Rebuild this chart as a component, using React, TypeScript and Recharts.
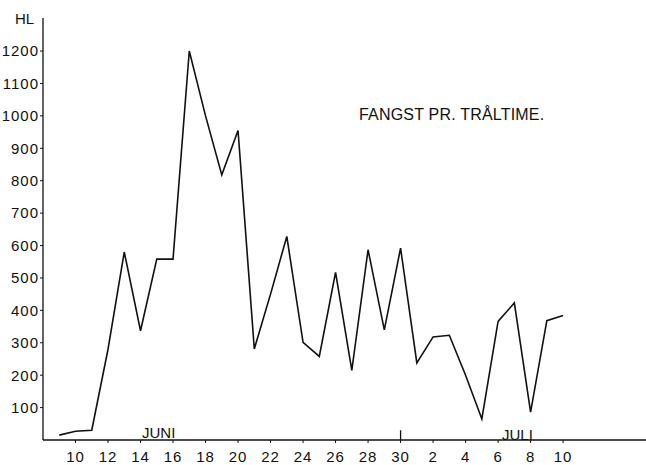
import { LineChart, Line, XAxis, YAxis, ReferenceLine } from 'recharts';

// day number: June d = d, July d = 30 + d
const days = [
  9, 10, 11, 12, 13, 14, 15, 16, 17, 18, 19, 20, 21, 22, 23, 24, 25, 26, 27, 28, 29, 30,
  31, 32, 33, 34, 35, 36, 37, 38, 39, 40,
];
const catchPerHour = [
  15, 27, 30, 280, 580, 337, 558, 558, 1200, 1000, 818, 955, 281, 450, 628, 301, 258, 517, 215, 587, 340, 592,
  238, 318, 323, 200, 65, 366, 423, 86, 368, 384,
];
const xTicks = [10, 12, 14, 16, 18, 20, 22, 24, 26, 28, 30, 32, 34, 36, 38, 40];
const yTicks = [100, 200, 300, 400, 500, 600, 700, 800, 900, 1000, 1100, 1200];

const data = days.map((d, i) => ({ day: d, value: catchPerHour[i] }));

const FONT = '"Liberation Sans", Arial, sans-serif';
const INK = '#111';

const label = (left: number, top: number, size: number, text: string, spacing = 0) => (
  <div
    style={{
      position: 'absolute',
      left,
      top,
      fontFamily: FONT,
      fontSize: size,
      color: INK,
      lineHeight: 1,
      letterSpacing: spacing,
      whiteSpace: 'nowrap',
    }}
  >
    {text}
  </div>
);

export default function App() {
  return (
    <div style={{ position: 'absolute', left: 0, top: 0, width: 646, height: 465, background: '#fff' }}>
      <LineChart width={646} height={465} data={data} margin={{ top: 18, right: 0, bottom: 0, left: 0 }}>
        <XAxis
          dataKey="day"
          type="number"
          domain={[8, 45.1]}
          ticks={xTicks}
          tickFormatter={(v: number) => String(v > 30 ? v - 30 : v)}
          height={25}
          tickSize={3}
          tickMargin={8}
          axisLine={{ stroke: INK, strokeWidth: 1.3 }}
          tickLine={{ stroke: INK }}
          tick={{ fill: INK, fontSize: 15, fontFamily: FONT, letterSpacing: 1 }}
          allowDataOverflow
        />
        <YAxis
          type="number"
          domain={[0, 1302]}
          ticks={yTicks}
          width={43}
          tickSize={3}
          tickMargin={1}
          axisLine={{ stroke: INK, strokeWidth: 1.3 }}
          tickLine={{ stroke: INK }}
          tick={{ fill: INK, fontSize: 15, fontFamily: FONT, letterSpacing: 1 }}
          allowDataOverflow
        />
        <ReferenceLine
          segment={[
            { x: 30, y: 0 },
            { x: 30, y: 30 },
          ]}
          stroke={INK}
          strokeWidth={1.3}
        />
        <Line
          type="linear"
          dataKey="value"
          stroke={INK}
          strokeWidth={1.6}
          dot={false}
          isAnimationActive={false}
        />
      </LineChart>
      {label(15, 11, 15, 'HL')}
      {label(359, 107, 16, 'FANGST  PR. TRÅLTIME.', 0.2)}
      {label(142, 425, 15, 'JUNI')}
      {label(502, 427, 15, 'JULI')}
    </div>
  );
}
